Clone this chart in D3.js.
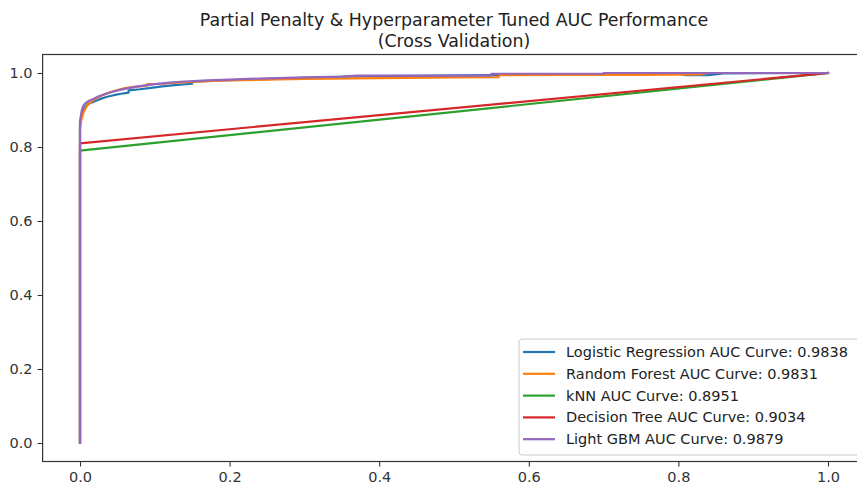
<!DOCTYPE html>
<html>
<head>
<meta charset="utf-8">
<script src="https://cdn.jsdelivr.net/npm/d3@7"></script>
<style>
  body { margin: 0; background: #fff; }
  text { font-family: "DejaVu Sans", sans-serif; }
</style>
</head>
<body>
<script>
// chart data
var titleLines = ["Partial Penalty & Hyperparameter Tuned AUC Performance", "(Cross Validation)"]
var xTicks = [0.0, 0.2, 0.4, 0.6, 0.8, 1.0]
var yTicks = [0.0, 0.2, 0.4, 0.6, 0.8, 1.0]

var modelNames = ["Logistic Regression", "Random Forest", "kNN", "Decision Tree", "Light GBM"]
var aucScores = ["0.9838", "0.9831", "0.8951", "0.9034", "0.9879"]
var colors = ["#1f77b4", "#ff7f0e", "#2ca02c", "#d62728", "#9467bd"]

var lrFpr = [0, 0, 0, 0.002, 0.004, 0.008, 0.012, 0.018, 0.025, 0.035, 0.045, 0.055, 0.065, 0.065, 0.08, 0.095, 0.11, 0.13, 0.15, 0.15, 0.18, 0.22, 0.27, 0.3, 0.37, 0.45, 0.55, 0.6, 0.7, 0.8, 0.81, 0.84, 0.86, 1.0]
var lrTpr = [0, 0.5, 0.86, 0.885, 0.9, 0.91, 0.918, 0.922, 0.928, 0.935, 0.94, 0.944, 0.947, 0.953, 0.956, 0.96, 0.964, 0.968, 0.971, 0.976, 0.979, 0.982, 0.985, 0.987, 0.991, 0.992, 0.994, 0.997, 0.997, 0.998, 0.994, 0.994, 0.999, 1.0]

var rfFpr = [0, 0, 0, 0.002, 0.005, 0.009, 0.014, 0.02, 0.03, 0.04, 0.05, 0.06, 0.075, 0.09, 0.09, 0.11, 0.13, 0.16, 0.2, 0.25, 0.3, 0.4, 0.5, 0.56, 0.56, 0.65, 0.75, 0.83, 0.84, 1.0]
var rfTpr = [0, 0.5, 0.85, 0.875, 0.895, 0.91, 0.92, 0.93, 0.94, 0.948, 0.954, 0.959, 0.963, 0.966, 0.97, 0.971, 0.974, 0.977, 0.98, 0.982, 0.984, 0.986, 0.988, 0.989, 0.994, 0.995, 0.995, 0.996, 1.0, 1.0]

var knnFpr = [0, 0, 1]
var knnTpr = [0, 0.79, 1]

var dtFpr = [0, 0, 1]
var dtTpr = [0, 0.81, 1]

var lgbFpr = [0, 0, 0, 0.002, 0.004, 0.007, 0.012, 0.018, 0.025, 0.035, 0.045, 0.055, 0.07, 0.085, 0.1, 0.12, 0.14, 0.17, 0.2, 0.24, 0.3, 0.35, 0.37, 0.55, 0.55, 0.7, 0.7, 1.0]
var lgbTpr = [0, 0.5, 0.87, 0.895, 0.91, 0.918, 0.925, 0.93, 0.937, 0.944, 0.95, 0.955, 0.961, 0.966, 0.97, 0.974, 0.977, 0.98, 0.982, 0.985, 0.988, 0.99, 0.993, 0.993, 0.998, 0.998, 1.0, 1.0]

var fprs = [lrFpr, rfFpr, knnFpr, dtFpr, lgbFpr]
var tprs = [lrTpr, rfTpr, knnTpr, dtTpr, lgbTpr]

var svg_w = 857
var svg_h = 489
var svg = d3.select("body").append("svg")
    .attr("width", svg_w)
    .attr("height", svg_h)

var ax_l = 42.6, ax_r = 865.4, ax_t = 54.5, ax_b = 461.5

var xscale = d3.scaleLinear().domain([-0.05, 1.05]).range([ax_l, ax_r])
var yscale = d3.scaleLinear().domain([-0.05, 1.05]).range([ax_b, ax_t])

// title
svg.selectAll(".title")
    .data(titleLines)
    .enter()
    .append("text")
    .attr("class", "title")
    .attr("x", (ax_l + ax_r) / 2)
    .attr("y", (d, i) => 26 + i * 20.5)
    .attr("text-anchor", "middle")
    .attr("font-size", 17.4)
    .attr("fill", "#222")
    .text(d => d)

// axes
var xAxis = d3.axisBottom(xscale).tickValues(xTicks).tickFormat(d3.format(".1f")).tickSize(5).tickPadding(5)
var yAxis = d3.axisLeft(yscale).tickValues(yTicks).tickFormat(d3.format(".1f")).tickSize(5).tickPadding(5)

var gx = svg.append("g").attr("transform", "translate(0," + ax_b + ")").call(xAxis)
var gy = svg.append("g").attr("transform", "translate(" + ax_l + ",0)").call(yAxis)
;[gx, gy].forEach(g => {
    g.select(".domain").remove()
    g.selectAll("line").attr("stroke", "#333").attr("stroke-width", 1.1)
    g.selectAll("text").attr("font-size", 14.5).attr("fill", "#333").style("font-family", "DejaVu Sans, sans-serif")
})

// curves
var line = d3.line().x(d => xscale(d[0])).y(d => yscale(d[1]))
for (let k = 0; k < modelNames.length; k++) {
    var pts = fprs[k].map((f, i) => [f, tprs[k][i]])
    svg.append("path")
        .attr("d", line(pts))
        .attr("fill", "none")
        .attr("stroke", colors[k])
        .attr("stroke-width", 2.2)
        .attr("stroke-linejoin", "round")
        .attr("stroke-linecap", "square")
}

// spines
svg.append("rect")
    .attr("x", ax_l).attr("y", ax_t)
    .attr("width", ax_r - ax_l).attr("height", ax_b - ax_t)
    .attr("fill", "none")
    .attr("stroke", "#333")
    .attr("stroke-width", 1.2)

// legend
var lg = svg.append("g")
lg.append("rect")
    .attr("x", 519).attr("y", 339)
    .attr("width", 345).attr("height", 116)
    .attr("rx", 3)
    .attr("fill", "#fff").attr("fill-opacity", 0.8)
    .attr("stroke", "#ccc")
var items = lg.selectAll(".item")
    .data(modelNames)
    .enter()
    .append("g")
    .attr("transform", (d, i) => "translate(0," + (352 + i * 21.8) + ")")
items.append("line")
    .attr("x1", 523).attr("x2", 555)
    .attr("stroke", (d, i) => colors[i])
    .attr("stroke-width", 2.2)
items.append("text")
    .attr("x", 566).attr("y", 5)
    .attr("font-size", 14.5)
    .attr("fill", "#222")
    .text((d, i) => d + " AUC Curve: " + aucScores[i])
</script>
</body>
</html>
